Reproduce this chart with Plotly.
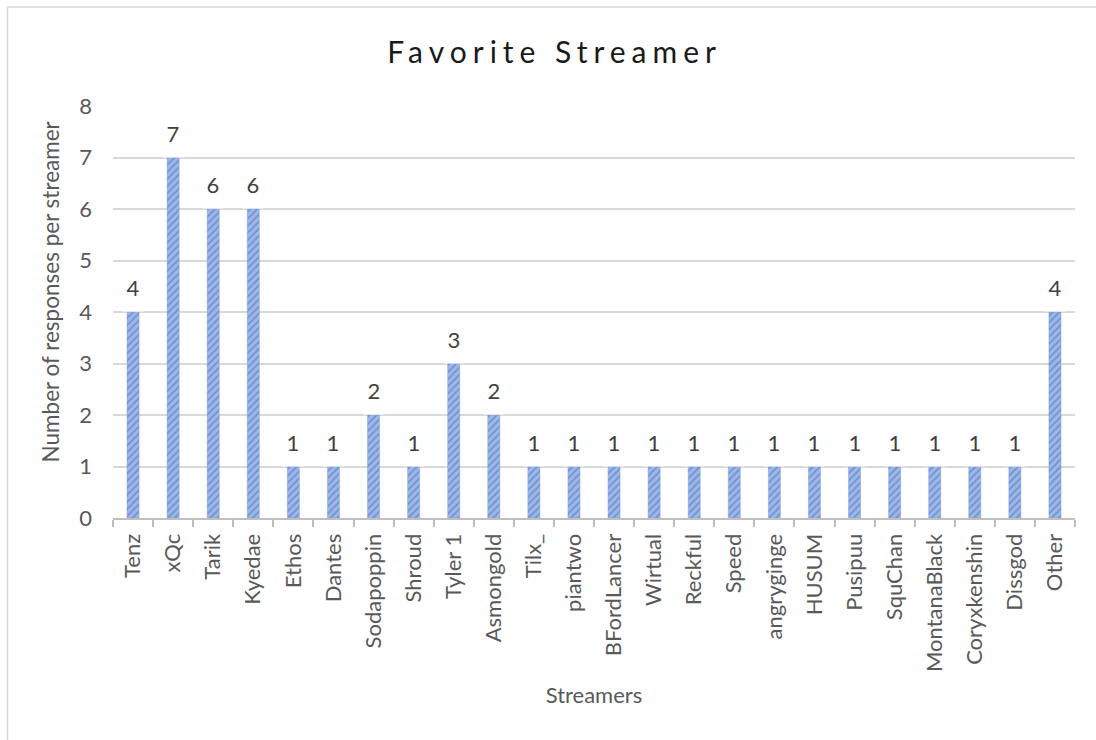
import plotly.graph_objects as go

# Survey results: favorite streamer
streamers = ["Tenz", "xQc", "Tarik", "Kyedae", "Ethos", "Dantes", "Sodapoppin",
             "Shroud", "Tyler 1", "Asmongold", "Tilx_", "piantwo", "BFordLancer",
             "Wirtual", "Reckful", "Speed", "angryginge", "HUSUM", "Pusipuu",
             "SquChan", "MontanaBlack", "Coryxkenshin", "Dissgod", "Other"]
responses = [4, 7, 6, 6, 1, 1, 2, 1, 3, 2, 1, 1, 1, 1, 1, 1, 1, 1, 1, 1, 1, 1, 1, 4]

FONT = "Lato"
TEXT_GREY = "#595959"
GRID = "#d9d9d9"
AXIS = "#bfbfbf"

fig = go.Figure()
fig.add_trace(go.Bar(
    x=streamers,
    y=responses,
    marker=dict(
        color="#9fb7e5",
        line=dict(color="#7f9fdc", width=0.5),
        pattern=dict(shape="/", fillmode="overlay", fgcolor="#4070c8",
                     size=5, solidity=0.35),
    ),
    hoverinfo="x+y",
))

# Value labels with a white box that interrupts the gridlines
for name, val in zip(streamers, responses):
    fig.add_annotation(
        x=name, y=val, xref="x", yref="y",
        text=str(val), showarrow=False,
        yanchor="bottom", valign="middle",
        width=16, height=44, borderpad=2,
        bgcolor="white",
        font=dict(family=FONT, size=22, color="#404040"),
    )

# Y-axis title, placed slightly above the plot's vertical centre
fig.add_annotation(
    text="Number of responses per streamer",
    xref="paper", yref="paper", x=-0.0655, y=0.5498,
    xanchor="center", yanchor="middle", textangle=-90, showarrow=False,
    font=dict(family=FONT, size=22.5, color=TEXT_GREY),
)

# Chart frame
fig.add_shape(type="rect", xref="paper", yref="paper",
              x0=-0.1097, x1=1.06, y0=-0.56, y1=1.2405,
              line=dict(color=GRID, width=1.5), fillcolor="rgba(0,0,0,0)",
              layer="below")

fig.update_layout(
    width=1096, height=740,
    margin=dict(l=113, r=21, t=106, b=222),
    paper_bgcolor="white", plot_bgcolor="white",
    bargap=0.7,
    showlegend=False,
    title=dict(text="Favorite Streamer", x=0.506, xanchor="center",
               y=1 - 52 / 740, yanchor="middle", yref="container",
               font=dict(family=FONT, size=30, color="#1a1a1a")),
    font=dict(family=FONT, color=TEXT_GREY),
)

fig.update_xaxes(
    type="category", tickangle=-90,
    tickfont=dict(family=FONT, size=22, color=TEXT_GREY),
    showline=True, linecolor=AXIS, linewidth=2,
    ticks="outside", tickson="boundaries", ticklen=7, tickwidth=2, tickcolor=AXIS,
    ticklabelstandoff=5,
    showgrid=False,
    title=dict(text="Streamers", standoff=16,
               font=dict(family=FONT, size=22, color=TEXT_GREY)),
)

fig.update_yaxes(
    range=[0, 8], dtick=1, tick0=0,
    tickfont=dict(family=FONT, size=22, color=TEXT_GREY),
    showgrid=True, gridcolor=GRID, gridwidth=1.5,
    zeroline=False, showline=False, ticks="",
    ticklabelstandoff=20,
)

fig.write_html(
    "out.html",
    post_script="document.querySelectorAll('.gtitle').forEach(function(e){e.style.letterSpacing='6px';});",
)
